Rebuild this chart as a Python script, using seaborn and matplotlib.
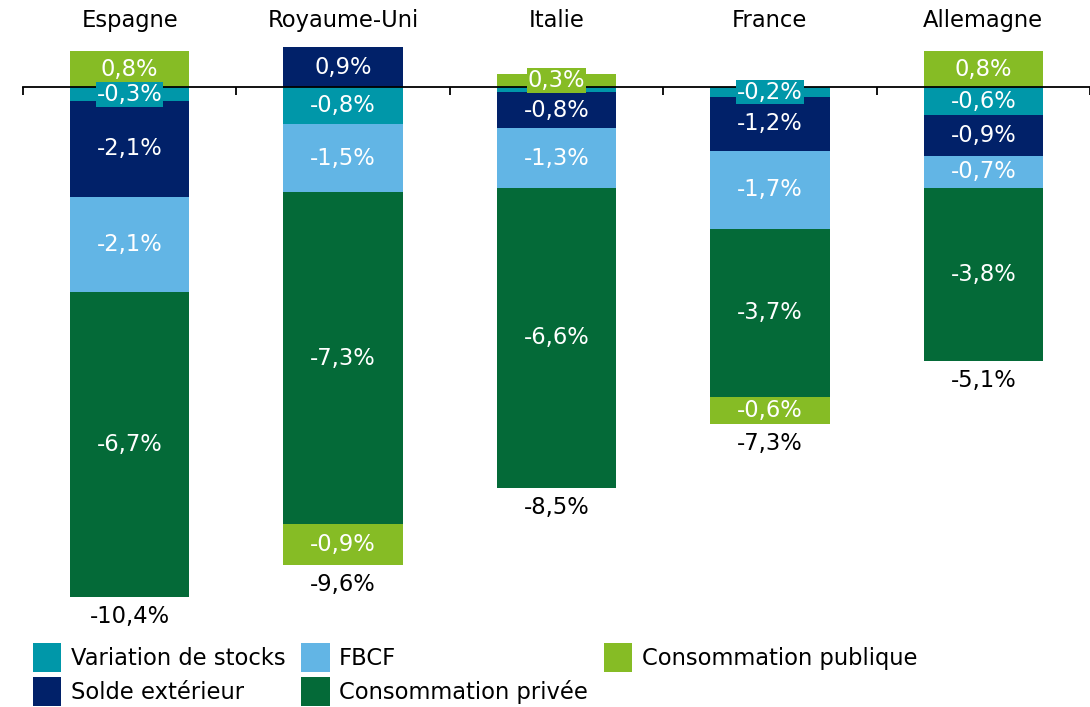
import numpy as np
import pandas as pd
import matplotlib
matplotlib.use("Agg")
import matplotlib.pyplot as plt
from matplotlib.patches import Patch
import seaborn as sns

# data ------------------------------------------------------------------------
pays = ['Espagne', 'Royaume-Uni', 'Italie', 'France', 'Allemagne']
variation_stocks = [-0.3, -0.8, -0.1, -0.2, -0.6]
solde_exterieur = [-2.1, 0.9, -0.8, -1.2, -0.9]
fbcf = [-2.1, -1.5, -1.3, -1.7, -0.7]
conso_privee = [-6.7, -7.3, -6.6, -3.7, -3.8]
conso_publique = [0.8, -0.9, 0.3, -0.6, 0.8]
total = [-10.4, -9.6, -8.5, -7.3, -5.1]

series_names = ['Variation de stocks', 'Solde extérieur', 'FBCF', 'Consommation privée', 'Consommation publique']
series_values = [variation_stocks, solde_exterieur, fbcf, conso_privee, conso_publique]
series_colors = ['#0097A9', '#012169', '#62B5E5', '#046A38', '#86BC25']

df = pd.DataFrame({'pays': pays})
for name, vals in zip(series_names, series_values):
    df[name] = vals

def fmt(v):
    return f"{v:.1f}%".replace('.', ',')

# figure ----------------------------------------------------------------------
sns.set_style('white')
plt.rcParams['font.family'] = ['DejaVu Sans']
plt.rcParams['text.color'] = 'black'
size_lab = 16.3

fig = plt.figure(figsize=(10.9, 7.07), dpi=100)
ax = fig.add_axes([23 / 1090, 0.1168, 1 - 23 / 1090, 0.9535 - 0.1168])

pos_bottom = np.zeros(len(pays))
neg_bottom = np.zeros(len(pays))
for name, color in zip(series_names, series_colors):
    vals = df[name].values
    bottom = np.where(vals >= 0, pos_bottom, neg_bottom)
    sns.barplot(data=df, x='pays', y=name, bottom=bottom, color=color, saturation=1,
                width=0.56, errorbar=None, linewidth=0, edgecolor='none', ax=ax)
    for bar, v in zip(ax.containers[-1], vals):
        if abs(v) < 0.15:  # segment too thin, no label in the original
            continue
        yc = bar.get_y() + bar.get_height() / 2
        ax.text(bar.get_x() + bar.get_width() / 2, yc, fmt(v), ha='center', va='center',
                color='white', fontsize=size_lab, zorder=4,
                bbox=dict(boxstyle='square,pad=0.04', fc=color, ec='none'))
    pos_bottom += np.clip(vals, 0, None)
    neg_bottom += np.clip(vals, None, 0)

# totals under the bars and country names on top
for i in range(len(pays)):
    ax.text(i, neg_bottom[i] - 0.43, fmt(total[i]), ha='center', va='center',
            color='black', fontsize=size_lab)
    ax.text(i, 1.48, pays[i], ha='center', va='center', color='black',
            fontsize=size_lab, clip_on=False)

# axis ------------------------------------------------------------------------
ax.set_xlim(-0.5, 4.5)
ax.set_ylim(-11.8, 1.2)
for s in ['top', 'right', 'left']:
    ax.spines[s].set_visible(False)
ax.spines['bottom'].set_position(('data', 0))
ax.spines['bottom'].set_color('black')
ax.spines['bottom'].set_linewidth(1.3)
ax.spines['bottom'].set_zorder(3)
ax.set_xticks(np.arange(-0.5, 5, 1))
ax.set_xticklabels([])
ax.tick_params(axis='x', bottom=True, direction='out', length=6, width=1.3, color='black')
ax.set_yticks([])
ax.set_xlabel('')
ax.set_ylabel('')

# legend ----------------------------------------------------------------------
handles = [Patch(facecolor=c, edgecolor='none') for c in series_colors]
fig.legend(handles, series_names, loc='upper left', bbox_to_anchor=(33 / 1090, 1 - 643 / 707),
           ncol=3, frameon=False, fontsize=size_lab, handlelength=1.25, handleheight=1.6,
           handletextpad=0.42, labelspacing=0.22, columnspacing=0.7, borderpad=0, borderaxespad=0)

fig.savefig('out.png', dpi=100)
